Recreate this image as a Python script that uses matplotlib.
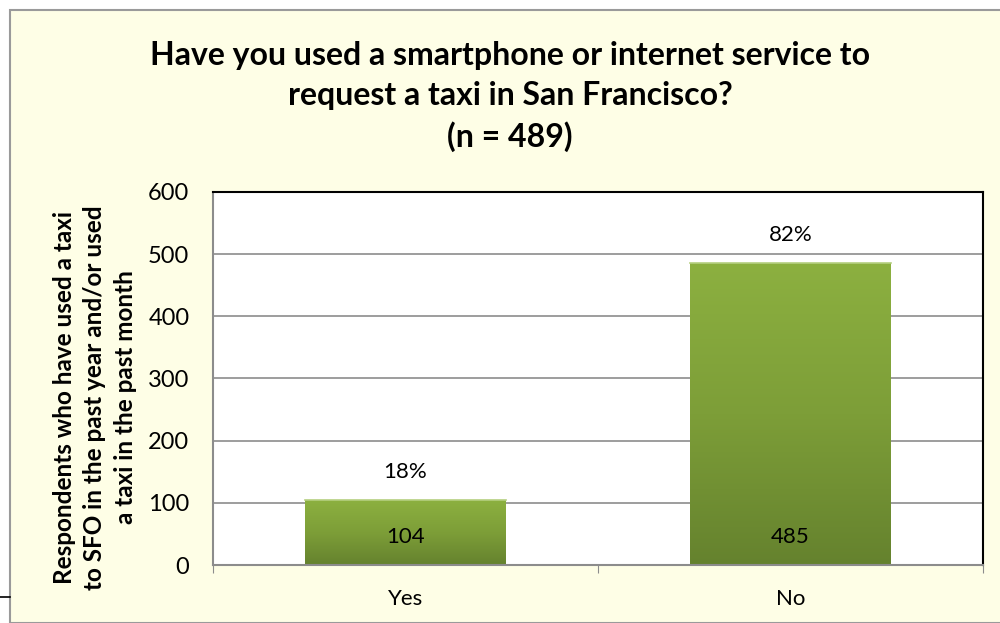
import matplotlib
matplotlib.use("Agg")
import matplotlib.pyplot as plt
import numpy as np
from matplotlib.patches import Rectangle
from matplotlib.colors import LinearSegmentedColormap

categories = ["Yes", "No"]
counts = [104, 485]
percent_labels = ["18%", "82%"]
yticks = [0, 100, 200, 300, 400, 500, 600]
title = "Have you used a smartphone or internet service to\nrequest a taxi in San Francisco?\n(n = 489)"
ylabel = "Respondents who have used a taxi\nto SFO in the past year and/or used\na taxi in the past month"

plt.rcParams['font.family'] = ['Lato', 'DejaVu Sans']

fig = plt.figure(figsize=(10, 6.23), dpi=100)
fig.patch.set_facecolor("white")
# yellow chart box
fig.patches.append(Rectangle((0.010, 0.0), 1.0, 0.984, transform=fig.transFigure,
                             facecolor="#FEFEE6", edgecolor="#9A9A9A", linewidth=1.5, zorder=-10))
fig.lines.append(plt.Line2D([0, 0.010], [0.042, 0.042], transform=fig.transFigure,
                            color="black", linewidth=1.2, zorder=-5))

ax = fig.add_axes([0.213, 0.093, 0.770, 0.599])
ax.set_zorder(1)
ax.set_facecolor("white")
x = np.arange(len(categories))
width = 0.52
ax.set_yticks(yticks)
ax.yaxis.grid(True, color="#8C8C8C", linewidth=1.2)
ax.set_axisbelow(True)

cmap = LinearSegmentedColormap.from_list("g", ["#65822E", "#7D9E38", "#8CB040"])
grad = np.linspace(0, 1, 256).reshape(-1, 1)
bars = ax.bar(x, counts, width=width, color="none", edgecolor="none", zorder=2)
for b in bars:
    x0, y0 = b.get_x(), b.get_y()
    w, h = b.get_width(), b.get_height()
    im = ax.imshow(grad, cmap=cmap, origin="lower", aspect="auto",
                   extent=[x0, x0 + w, y0, y0 + h], zorder=2)
    im.set_clip_path(b)
    ax.plot([x0, x0 + w], [y0 + h, y0 + h], color="#B5CF80", linewidth=1.2, zorder=3)
ax.set_xlim(-0.5, 1.5)
ax.set_ylim(0, 600)

for xi, c, p in zip(x, counts, percent_labels):
    ax.text(xi, 45, str(c), ha="center", va="center", fontsize=16, color="black", zorder=4)
    ax.text(xi, c + 45, p, ha="center", va="center", fontsize=16, color="black", zorder=4)

ax.set_xticks([-0.5, 0.5, 1.5], minor=False)
ax.set_xticklabels(["", "", ""])
ax.set_xticks(x, minor=True)
ax.set_xticklabels(categories, minor=True, fontsize=16)
ax.tick_params(axis="x", which="major", length=6, color="#8C8C8C", direction="out")
ax.tick_params(axis="x", which="minor", length=0, pad=17)
ax.tick_params(axis="y", length=0, labelsize=17, pad=17)

ax.spines["left"].set_color("#8C8C8C")
ax.spines["bottom"].set_color("#8C8C8C")
ax.spines["left"].set_linewidth(1.5)
ax.spines["bottom"].set_linewidth(1.5)
ax.spines["top"].set_color("black")
ax.spines["right"].set_color("black")
ax.spines["top"].set_linewidth(1.5)
ax.spines["right"].set_linewidth(1.5)

fig.text(0.095, 0.362, ylabel, rotation=90, ha="center", va="center",
         fontsize=17.5, fontweight="bold", linespacing=1.38)
fig.text(0.51, 0.845, title, ha="center", va="center", fontsize=23,
         fontweight="bold", linespacing=1.45)

fig.savefig("out.png", dpi=100, facecolor="white")
